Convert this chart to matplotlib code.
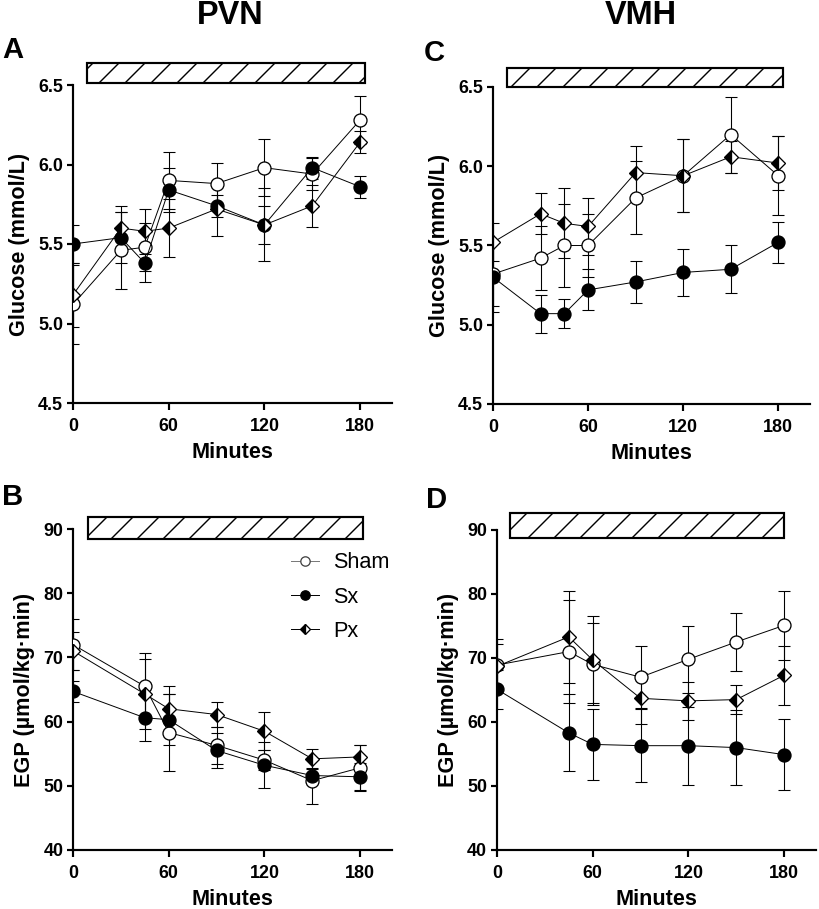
import numpy as np
import matplotlib
matplotlib.use("Agg")
import matplotlib.pyplot as plt
from matplotlib.patches import Rectangle
from matplotlib.ticker import FormatStrFormatter

# ---- data ----
min_glu = [0, 30, 45, 60, 90, 120, 150, 180]
min_egp = [0, 45, 60, 90, 120, 150, 180]

# A: PVN glucose
pvn_glu_sham = [5.12, 5.46, 5.48, 5.90, 5.88, 5.98, 5.94, 6.28]
pvn_glu_sham_err = [0.25, 0.24, 0.15, 0.18, 0.13, 0.18, 0.10, 0.15]
pvn_glu_sx = [5.50, 5.54, 5.38, 5.84, 5.74, 5.62, 5.98, 5.86]
pvn_glu_sx_err = [0.12, 0.16, 0.12, 0.14, 0.07, 0.23, 0.07, 0.07]
pvn_glu_px = [5.18, 5.60, 5.58, 5.60, 5.72, 5.62, 5.74, 6.14]
pvn_glu_px_err = [0.20, 0.14, 0.14, 0.18, 0.17, 0.12, 0.13, 0.07]

# C: VMH glucose
vmh_glu_sham = [5.32, 5.42, 5.50, 5.50, 5.80, 5.94, 6.20, 5.94]
vmh_glu_sham_err = [0.20, 0.20, 0.26, 0.20, 0.23, 0.23, 0.24, 0.25]
vmh_glu_sx = [5.30, 5.07, 5.07, 5.22, 5.27, 5.33, 5.35, 5.52]
vmh_glu_sx_err = [0.22, 0.12, 0.09, 0.13, 0.13, 0.15, 0.15, 0.13]
vmh_glu_px = [5.52, 5.70, 5.64, 5.62, 5.96, 5.94, 6.06, 6.02]
vmh_glu_px_err = [0.12, 0.13, 0.22, 0.18, 0.17, 0.23, 0.10, 0.17]

# B: PVN EGP
pvn_egp_sham = [72.0, 65.5, 58.3, 56.3, 54.0, 50.8, 52.8]
pvn_egp_sham_err = [4.0, 5.2, 6.0, 2.9, 1.5, 3.6, 3.5]
pvn_egp_sx = [64.7, 60.6, 60.3, 55.5, 53.2, 51.6, 51.4]
pvn_egp_sx_err = [1.7, 3.6, 4.0, 2.7, 3.6, 1.0, 2.2]
pvn_egp_px = [71.0, 64.3, 62.0, 61.1, 58.5, 54.2, 54.5]
pvn_egp_px_err = [3.0, 5.4, 3.5, 2.0, 3.0, 1.5, 1.8]

# D: VMH EGP
vmh_egp_sham = [68.9, 71.0, 69.0, 67.0, 69.8, 72.5, 75.1]
vmh_egp_sham_err = [4.0, 8.0, 6.4, 4.8, 5.2, 4.5, 5.4]
vmh_egp_sx = [65.1, 58.3, 56.5, 56.3, 56.3, 56.0, 54.9]
vmh_egp_sx_err = [3.0, 6.0, 5.6, 5.7, 6.1, 5.8, 5.5]
vmh_egp_px = [68.7, 73.3, 69.7, 63.7, 63.3, 63.5, 67.3]
vmh_egp_px_err = [3.5, 7.2, 6.8, 4.0, 3.0, 2.3, 4.6]

FONT = "Liberation Sans"
plt.rcParams["font.family"] = FONT
plt.rcParams["hatch.linewidth"] = 1.3

DPI = 78
W, H = 819, 909
fig = plt.figure(figsize=(W / DPI, H / DPI), dpi=DPI)


def rect(l, t, r, b):
    return [l / W, 1 - b / H, (r - l) / W, (b - t) / H]


def panel(box, x, series, ylim, yticks, ylabel, fmt, bar, legend=False):
    ax = fig.add_axes(rect(*box))
    styles = [
        dict(marker="o", mfc="white", ms=12, label="Sham"),
        dict(marker="o", mfc="black", ms=12, label="Sx"),
        dict(marker="D", mfc="black", mfcalt="white", fillstyle="left", ms=9, label="Px"),
    ]
    for (y, err), st in zip(series, styles):
        ax.errorbar(x, y, yerr=err, fmt="none", ecolor="black", elinewidth=1.0,
                    capsize=5.5, capthick=1.0, zorder=2)
        ms = st.pop("ms")
        ax.plot(x, y, color="black", lw=0.9, mec="black", mew=1.2, markersize=ms,
                zorder=3, **st)

    ax.set_xlim(0, 200)
    ax.set_ylim(*ylim)
    ax.set_xticks([0, 60, 120, 180])
    ax.set_yticks(yticks)
    ax.yaxis.set_major_formatter(FormatStrFormatter(fmt))
    for s in ["top", "right"]:
        ax.spines[s].set_visible(False)
    for s in ["left", "bottom"]:
        ax.spines[s].set_linewidth(2.0)
    ax.tick_params(width=2.0, length=6, labelsize=16.5)
    ax.tick_params(axis="x", pad=8)
    ax.tick_params(axis="y", pad=3)
    for lab in ax.get_xticklabels() + ax.get_yticklabels():
        lab.set_fontweight("bold")
    ax.set_xlabel("Minutes", fontsize=20, fontweight="bold", labelpad=6)
    ax.set_ylabel(ylabel, fontsize=20, fontweight="bold", labelpad=8)

    x0, x1, y0, y1 = bar
    ax.add_patch(Rectangle((x0, y0), x1 - x0, y1 - y0, facecolor="white",
                           edgecolor="black", lw=2.0, hatch="/", clip_on=False, zorder=4))
    if legend:
        leg = ax.legend(loc="upper left", bbox_to_anchor=(0.655, 0.955), frameon=False,
                        fontsize=20, handlelength=1.3, markerscale=0.72, labelspacing=0.62,
                        handletextpad=0.65, borderaxespad=0)
        leg.legend_handles[0].set_color("#777777")
        leg.legend_handles[0].set_markeredgecolor("#444444")
    return ax


panel((73, 85, 392, 403), min_glu,
      [(pvn_glu_sham, pvn_glu_sham_err), (pvn_glu_sx, pvn_glu_sx_err), (pvn_glu_px, pvn_glu_px_err)],
      (4.5, 6.5), [4.5, 5.0, 5.5, 6.0, 6.5], "Glucose (mmol/L)", "%.1f",
      (9, 183, 6.51, 6.64))
panel((493, 87, 810, 404), min_glu,
      [(vmh_glu_sham, vmh_glu_sham_err), (vmh_glu_sx, vmh_glu_sx_err), (vmh_glu_px, vmh_glu_px_err)],
      (4.5, 6.5), [4.5, 5.0, 5.5, 6.0, 6.5], "Glucose (mmol/L)", "%.1f",
      (9, 183, 6.5, 6.62))
panel((73, 529, 392, 850), min_egp,
      [(pvn_egp_sham, pvn_egp_sham_err), (pvn_egp_sx, pvn_egp_sx_err), (pvn_egp_px, pvn_egp_px_err)],
      (40, 90), [40, 50, 60, 70, 80, 90], "EGP (µmol/kg·min)", "%d",
      (9.4, 182, 88.4, 91.9), legend=True)
panel((497, 530, 816, 850), min_egp,
      [(vmh_egp_sham, vmh_egp_sham_err), (vmh_egp_sx, vmh_egp_sx_err), (vmh_egp_px, vmh_egp_px_err)],
      (40, 90), [40, 50, 60, 70, 80, 90], "EGP (µmol/kg·min)", "%d",
      (8.2, 180, 88.75, 92.7))

# titles and panel letters
fig.text(230 / W, 1 - 16 / H, "PVN", fontsize=30, fontweight="bold", ha="center", va="center")
fig.text(641 / W, 1 - 16 / H, "VMH", fontsize=30, fontweight="bold", ha="center", va="center")
for lx, ly, t in [(2, 50, "A"), (424, 53, "C"), (2, 497, "B"), (426, 500, "D")]:
    fig.text(lx / W, 1 - ly / H, t, fontsize=27, fontweight="bold", ha="left", va="center")

fig.savefig("out.png", dpi=DPI)
